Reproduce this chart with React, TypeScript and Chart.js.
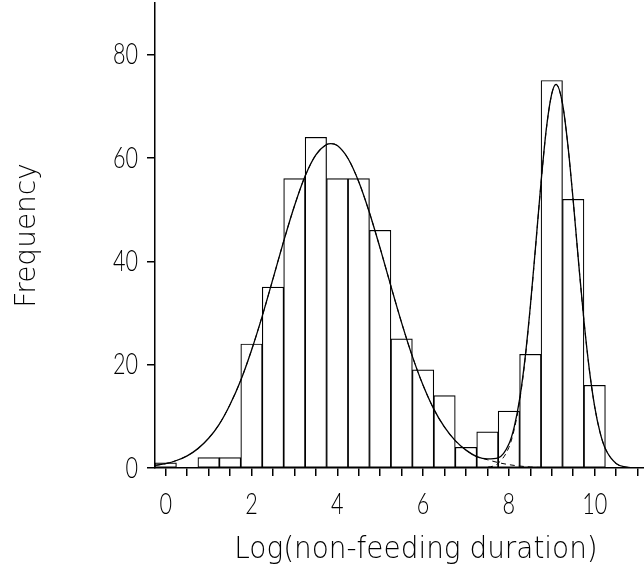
import React, { useEffect, useRef } from "react";
import { Chart, registerables } from "chart.js";

Chart.register(...registerables);

// Histogram bins (centres) and counts
const binCenters = [0, 0.5, 1, 1.5, 2, 2.5, 3, 3.5, 4, 4.5, 5, 5.5, 6, 6.5, 7, 7.5, 8, 8.5, 9, 9.5, 10];
const binCounts = [1, 0, 2, 2, 24, 35, 56, 64, 56, 56, 46, 25, 19, 14, 4, 7, 11, 22, 75, 52, 16];

// Fitted curves
const curveX = [
  -0.25, 0, 0.25, 0.5, 0.75, 1, 1.25, 1.5, 1.75, 2,
  2.25, 2.5, 2.75, 3, 3.25, 3.5, 3.75, 3.85, 4, 4.25,
  4.5, 4.75, 5, 5.25, 5.5, 5.75, 6, 6.25, 6.5, 6.75,
  7, 7.25, 7.5, 7.75, 8, 8.125, 8.25, 8.375, 8.5, 8.625,
  8.75, 8.875, 9, 9.1, 9.25, 9.375, 9.5, 9.625, 9.75, 9.875,
  10, 10.125, 10.25, 10.5, 10.75, 11, 11.15,
];
const component1 = [
  0.5, 0.85, 1.45, 2.35, 3.75, 5.75, 8.5, 12.3, 17.0, 22.8,
  29.4, 36.6, 43.9, 50.7, 56.5, 60.6, 62.6, 62.8, 62.4, 59.9,
  55.4, 49.4, 42.5, 35.2, 28.1, 21.6, 16.0, 11.4, 7.9, 5.3,
  3.45, 2.2, 1.6, 1.05, 0.65, 0.5, 0.38, 0.28, 0.2, 0.14,
  0.1, 0.07, 0.05, 0.04, 0.02, 0.01, 0, 0, 0, 0,
  0, 0, 0, 0, 0, 0, 0,
];
const component2 = [
  0, 0, 0, 0, 0, 0, 0, 0, 0, 0,
  0, 0, 0, 0, 0, 0, 0, 0, 0, 0,
  0, 0, 0, 0, 0, 0, 0, 0, 0, 0,
  0.01, 0.02, 0.15, 0.91, 3.99, 7.47, 12.95, 20.8, 31.1, 43.0,
  55.2, 65.7, 72.4, 74.2, 70.5, 62.5, 51.7, 39.8, 28.5, 19.1,
  11.9, 6.9, 3.72, 0.88, 0.16, 0.02, 0.01,
];
const mixtureTotal = [
  0.5, 0.85, 1.45, 2.35, 3.75, 5.75, 8.5, 12.3, 17.0, 22.8,
  29.4, 36.6, 43.9, 50.7, 56.5, 60.6, 62.6, 62.8, 62.4, 59.9,
  55.4, 49.4, 42.5, 35.2, 28.1, 21.6, 16.0, 11.4, 7.9, 5.3,
  3.46, 2.22, 1.75, 1.96, 4.64, 7.97, 13.33, 21.08, 31.3, 43.14,
  55.3, 65.77, 72.45, 74.24, 70.52, 62.51, 51.7, 39.8, 28.5, 19.1,
  11.9, 6.9, 3.72, 0.88, 0.16, 0.02, 0.01,
];

const xLabeledTicks = [0, 2, 4, 6, 8, 10];
const yTickValues = [0, 20, 40, 60, 80];
const xAxisTitle = "Log(non-feeding duration)";
const yAxisTitle = "Frequency";

const lightFont = "'DejaVu Sans', sans-serif";
const tickFont = "Lato, 'DejaVu Sans', sans-serif";
const labelStretch = 0.72;

// Draws the scale's own label items, horizontally condensed (stroke-font look)
function drawNarrowLabels(this: any, chartArea: any) {
  const ctx = this.ctx;
  const items = this.getLabelItems(chartArea);
  for (const item of items) {
    if (item.label === "" || item.label == null) continue;
    const o = item.options;
    ctx.save();
    ctx.translate(o.translation[0], o.translation[1]);
    ctx.rotate(o.rotation || 0);
    ctx.scale(labelStretch, 1);
    ctx.font = item.font.string;
    ctx.fillStyle = o.color;
    ctx.textAlign = o.textAlign;
    ctx.textBaseline = o.textBaseline;
    const lines = Array.isArray(item.label) ? item.label : [item.label];
    let y = item.textOffset;
    for (const line of lines) {
      ctx.fillText(String(line), 0, y);
      y += item.font.lineHeight;
    }
    ctx.restore();
  }
}

const xTitlePlugin = {
  id: "xTitlePlugin",
  afterDraw(chart: any) {
    const ctx = chart.ctx;
    ctx.save();
    ctx.translate(416, 550);
    ctx.scale(0.9, 1);
    ctx.font = `200 31px ${lightFont}`;
    ctx.fillStyle = "#000";
    ctx.textAlign = "center";
    ctx.textBaseline = "middle";
    ctx.fillText(xAxisTitle, 0, 0);
    ctx.restore();
  },
};

export default function App() {
  const ref = useRef<HTMLCanvasElement>(null);

  useEffect(() => {
    if (!ref.current) return;
    const toPts = (ys: number[]) => curveX.map((x, i) => ({ x, y: ys[i] }));
    const chart = new Chart(ref.current, {
      type: "bar",
      plugins: [xTitlePlugin],
      data: {
        datasets: [
          {
            type: "line",
            data: toPts(mixtureTotal),
            borderColor: "#000",
            borderWidth: 1.3,
            pointRadius: 0,
            cubicInterpolationMode: "monotone",
            fill: false,
            order: 1,
          } as any,
          {
            type: "line",
            data: toPts(component1),
            borderColor: "#000",
            borderWidth: 1,
            borderDash: [5, 4],
            pointRadius: 0,
            cubicInterpolationMode: "monotone",
            fill: false,
            order: 1,
          } as any,
          {
            type: "line",
            data: toPts(component2),
            borderColor: "#000",
            borderWidth: 1,
            borderDash: [5, 4],
            pointRadius: 0,
            cubicInterpolationMode: "monotone",
            fill: false,
            order: 1,
          } as any,
          {
            type: "bar",
            data: binCenters.map((x, i) => ({ x, y: binCounts[i] })),
            backgroundColor: "#fff",
            borderColor: "#000",
            borderWidth: 1.2,
            borderSkipped: false,
            barPercentage: 1,
            categoryPercentage: 1,
            order: 2,
          } as any,
        ],
      },
      options: {
        responsive: false,
        animation: false,
        layout: { padding: { top: 3, left: 0, right: 0, bottom: 0 } },
        plugins: { legend: { display: false }, tooltip: { enabled: false } },
        scales: {
          x: {
            type: "linear",
            min: -0.25,
            max: 11.15,
            offset: false,
            grid: {
              display: true,
              drawOnChartArea: false,
              drawTicks: true,
              tickLength: 8,
              color: "#000",
              lineWidth: 1.5,
              offset: false,
            },
            border: { display: true, color: "#000", width: 1.5 },
            ticks: {
              stepSize: 0.5,
              includeBounds: false,
              autoSkip: false,
              maxRotation: 0,
              color: "#000",
              padding: 10,
              font: { family: tickFont, size: 30, weight: "300" as any },
              callback: (v: any) => (xLabeledTicks.includes(Number(v)) ? String(v) : ""),
            },
            title: { display: false, text: xAxisTitle },
            afterFit: (s: any) => {
              s.height = 105;
              s.paddingLeft = 0;
              s.paddingRight = 0;
              s.drawLabels = drawNarrowLabels;
            },
          } as any,
          y: {
            type: "linear",
            min: 0,
            max: 90,
            grid: {
              display: true,
              drawOnChartArea: false,
              drawTicks: true,
              tickLength: 8,
              color: "#000",
              lineWidth: 1.5,
            },
            border: { display: true, color: "#000", width: 1.5 },
            ticks: {
              stepSize: 20,
              includeBounds: false,
              color: "#000",
              padding: 9,
              font: { family: tickFont, size: 30, weight: "300" as any },
              callback: (v: any) => (yTickValues.includes(Number(v)) ? String(v) : ""),
            },
            title: {
              display: true,
              text: yAxisTitle,
              color: "#000",
              font: { family: lightFont, size: 28, weight: "200" as any },
              padding: { top: 11, bottom: 0 },
            },
            afterFit: (s: any) => {
              s.width = 155;
              s.paddingTop = 0;
              s.paddingBottom = 0;
              s.drawLabels = drawNarrowLabels;
            },
          } as any,
        },
      },
    });
    return () => chart.destroy();
  }, []);

  return (
    <canvas
      ref={ref}
      width={644}
      height={573}
      style={{ position: "absolute", left: 0, top: 0, display: "block" }}
    />
  );
}
